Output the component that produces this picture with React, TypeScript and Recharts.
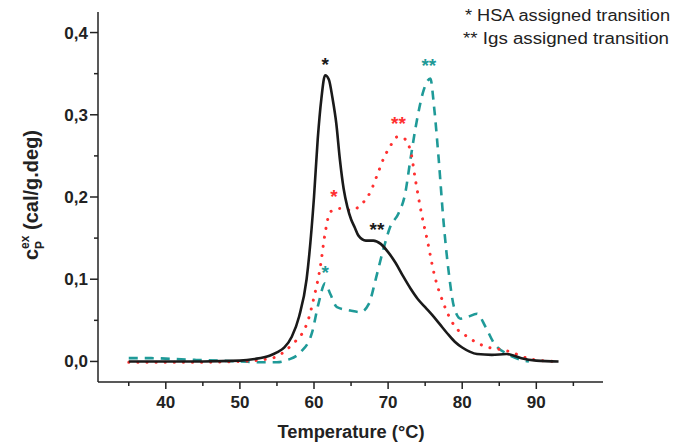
import { LineChart, Line, XAxis, YAxis, ReferenceDot, Label } from "recharts";

// HSA (black, solid)
const hsaT = [35, 40, 45, 50, 52, 54, 55, 56, 57, 58, 59, 60, 60.5, 61, 61.5, 62, 62.5, 63, 63.5, 64, 64.5, 65, 65.5, 66, 67, 68, 69, 70, 71, 72, 73, 74, 75, 76, 77, 78, 79, 80, 81, 82, 84, 86, 87, 88, 90, 93];
const hsaCp = [0, 0, 0, 0.001, 0.003, 0.007, 0.011, 0.017, 0.03, 0.055, 0.1, 0.2, 0.27, 0.32, 0.348, 0.343, 0.32, 0.29, 0.245, 0.21, 0.188, 0.173, 0.163, 0.153, 0.147, 0.147, 0.143, 0.133, 0.12, 0.104, 0.089, 0.076, 0.066, 0.056, 0.045, 0.034, 0.024, 0.017, 0.012, 0.009, 0.008, 0.009, 0.007, 0.004, 0.001, 0];

// plasma / mixture (red, dotted)
const redT = [35, 40, 45, 50, 53, 55, 56, 57.2, 58.4, 59.2, 60, 60.85, 61.5, 62.2, 63.5, 65, 66.5, 67.6, 68.5, 69.4, 70.3, 71.2, 72, 73, 73.7, 74.5, 75.3, 76.2, 77.5, 78.9, 80.7, 82.9, 86, 89.2, 92.3];
const redCp = [-0.001, -0.001, -0.001, 0, 0.002, 0.006, 0.012, 0.022, 0.034, 0.05, 0.078, 0.115, 0.156, 0.182, 0.186, 0.184, 0.192, 0.206, 0.226, 0.247, 0.262, 0.273, 0.272, 0.257, 0.22, 0.18, 0.147, 0.107, 0.07, 0.044, 0.03, 0.019, 0.013, 0.003, 0];

// Igs (teal, dashed)
const tealT = [35, 38, 41, 44, 47, 50, 53, 55, 56.5, 58.15, 59.7, 60.6, 61.5, 62.2, 63.1, 64.9, 66.25, 67.4, 68.3, 69.2, 70.3, 71.4, 72.3, 73, 73.9, 74.8, 75.7, 76.2, 76.8, 77.5, 78.2, 78.9, 79.8, 80.7, 82, 83.15, 84.3, 86.1, 87.9, 89];
const tealCp = [0.004, 0.004, 0.003, 0.002, 0.001, 0, -0.001, -0.001, 0.002, 0.011, 0.034, 0.07, 0.095, 0.082, 0.066, 0.062, 0.06, 0.07, 0.099, 0.131, 0.164, 0.18, 0.204, 0.245, 0.294, 0.33, 0.344, 0.31, 0.249, 0.168, 0.107, 0.066, 0.052, 0.054, 0.058, 0.042, 0.022, 0.009, 0.002, 0];

// transition marks
const markT = [61.5, 75.5, 71.4, 62.7, 68.5, 61.5];
const markCp = [0.367, 0.366, 0.295, 0.206, 0.166, 0.114];
const markText = ["*", "**", "**", "*", "**", "*"];
const markColor = ["#1a1a1a", "#1f9a98", "#ff3030", "#ff3030", "#1a1a1a", "#1f9a98"];

const xTicks = [35, 40, 45, 50, 55, 60, 65, 70, 75, 80, 85, 90, 95];
const yTicks = [0, 0.05, 0.1, 0.15, 0.2, 0.25, 0.3, 0.35, 0.4];

const zip = (t: number[], v: number[]) => t.map((x, i) => ({ t: x, cp: v[i] }));

const FONT = "'Liberation Sans', Arial, sans-serif";
const AXIS = "#222";

const XTick = (props: any) => {
  const { x, y, payload } = props;
  const major = payload.value % 10 === 0;
  return (
    <g>
      <line x1={x} x2={x} y1={y} y2={y + (major ? 7 : 4)} stroke={AXIS} strokeWidth={1.5} />
      {major && (
        <text x={x} y={y + 26} textAnchor="middle" fontFamily={FONT} fontWeight="bold" fontSize={17} fill="#222">
          {payload.value}
        </text>
      )}
    </g>
  );
};

const YTick = (props: any) => {
  const { x, y, payload } = props;
  const major = Math.abs(payload.value * 10 - Math.round(payload.value * 10)) < 1e-6;
  return (
    <g>
      <line x1={x} x2={x - (major ? 8 : 4)} y1={y} y2={y} stroke={AXIS} strokeWidth={1.5} />
      {major && (
        <text x={x - 10} y={y + 6} textAnchor="end" fontFamily={FONT} fontWeight="bold" fontSize={17} fill="#222">
          {payload.value.toFixed(1).replace(".", ",")}
        </text>
      )}
    </g>
  );
};

const Titles = () => (
  <g fontFamily={FONT} fill="#222">
    <text x={351} y={438} textAnchor="middle" fontWeight="bold" fontSize={18} textLength={147} lengthAdjust="spacingAndGlyphs">
      Temperature (°C)
    </text>
    <text x={38} y={195} transform="rotate(-90 38 195)" textAnchor="middle" fontWeight="bold" fontSize={20}>
      c
      <tspan dy={6} fontSize={12}>P</tspan>
      <tspan dy={-15} dx={-8} fontSize={12}>ex</tspan>
      <tspan dy={9}> (cal/g.deg)</tspan>
    </text>
    <text x={465} y={21} fontSize={16} textLength={205} lengthAdjust="spacingAndGlyphs">
      * HSA assigned transition
    </text>
    <text x={463} y={44} fontSize={16} textLength={206} lengthAdjust="spacingAndGlyphs">
      ** Igs assigned transition
    </text>
  </g>
);

export default function App() {
  return (
    <div style={{ position: "absolute", left: 0, top: 0, background: "#fff" }}>
      <LineChart width={676} height={442} margin={{ top: 12, right: 73, bottom: 0, left: 0 }}>
        <XAxis
          type="number"
          dataKey="t"
          domain={[30.85, 99]}
          ticks={xTicks}
          interval={0}
          height={60}
          tickSize={0}
          tickMargin={0}
          tickLine={false}
          tick={<XTick />}
          axisLine={{ stroke: AXIS, strokeWidth: 1.5 }}
          allowDataOverflow
        >
          <Label content={<Titles />} />
        </XAxis>
        <YAxis
          type="number"
          domain={[-0.025, 0.425]}
          ticks={yTicks}
          interval={0}
          width={98}
          tickSize={0}
          tickMargin={0}
          tickLine={false}
          tick={<YTick />}
          axisLine={{ stroke: AXIS, strokeWidth: 1.5 }}
          allowDataOverflow
        />
        <Line
          data={zip(tealT, tealCp)}
          dataKey="cp"
          type="monotone"
          stroke="#1f9a98"
          strokeWidth={2.6}
          strokeDasharray="9 7"
          dot={false}
          isAnimationActive={false}
        />
        <Line
          data={zip(redT, redCp)}
          dataKey="cp"
          type="monotone"
          stroke="#ff3030"
          strokeWidth={3}
          strokeDasharray="0.1 9"
          strokeLinecap="round"
          dot={false}
          isAnimationActive={false}
        />
        <Line
          data={zip(hsaT, hsaCp)}
          dataKey="cp"
          type="monotone"
          stroke="#1a1a1a"
          strokeWidth={2.6}
          dot={false}
          isAnimationActive={false}
        />
        {markT.map((t, i) => (
          <ReferenceDot
            key={i}
            x={t}
            y={markCp[i]}
            r={0}
            shape={(p: any) => (
              <text x={p.cx} y={p.cy + 11} textAnchor="middle" fontFamily={FONT} fontWeight="bold" fontSize={19} fill={markColor[i]}>
                {markText[i]}
              </text>
            )}
          />
        ))}
      </LineChart>
    </div>
  );
}
